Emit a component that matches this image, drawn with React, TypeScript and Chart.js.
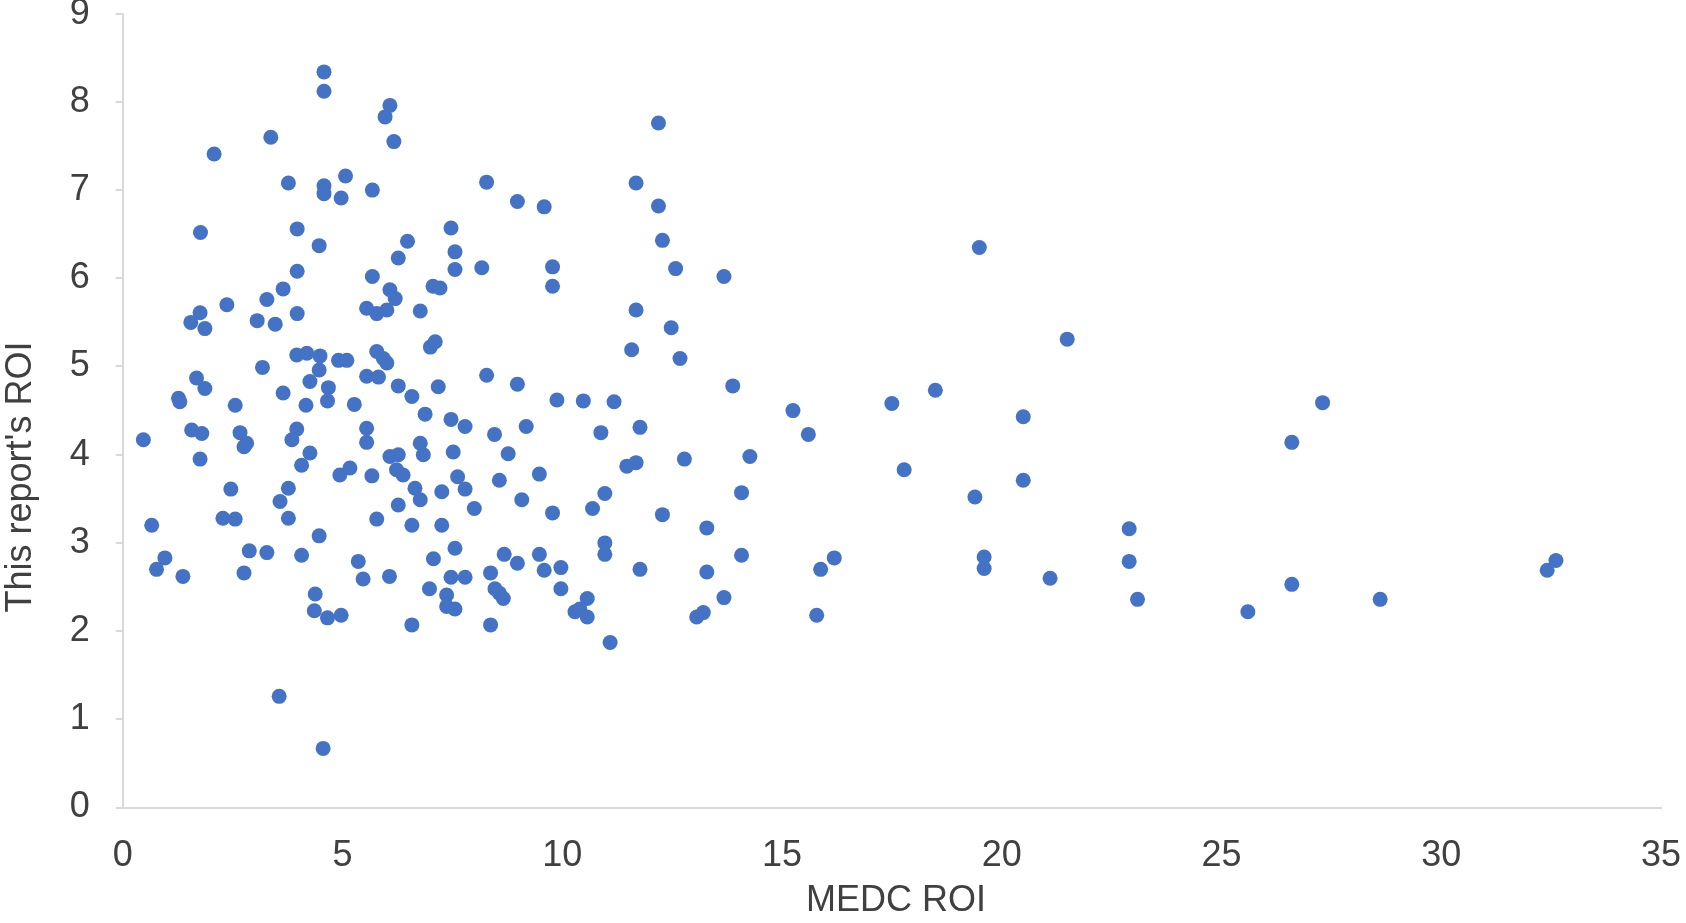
import React, { useEffect, useRef } from "react";
import { Chart, registerables } from "chart.js";

Chart.register(...registerables);

const xTitle = "MEDC ROI";
const yTitle = "This report's ROI";
const xTickValues = [0, 5, 10, 15, 20, 25, 30, 35];
const yTickValues = [0, 1, 2, 3, 4, 5, 6, 7, 8, 9];

const medcRoi = [
  4.58, 4.58, 6.08, 5.97, 6.17, 3.37, 2.08, 3.77, 4.58, 4.58, 5.07, 4.97, 5.68, 1.77, 3.97, 4.47, 6.48, 6.27, 7.47, 7.56, 7.56, 3.97, 5.68, 3.65, 6.08, 7.06, 7.22,
  12.19, 8.28, 8.98, 9.59, 11.68, 12.19, 12.28, 12.58, 13.68, 8.17, 9.78, 9.78,
  3.28, 2.37, 1.76, 1.55, 1.87, 3.06, 3.47, 3.97, 6.2, 5.55, 5.78, 6.01, 6.77, 7.0, 7.11, 3.96, 4.19, 4.49, 4.47, 4.26, 4.68, 4.66, 4.91, 5.1, 5.78, 5.93, 6.01, 5.55, 5.82, 6.27, 6.58, 7.18, 6.88, 7.47, 3.18, 1.68, 1.87, 1.27, 1.3, 2.56, 3.65, 4.17, 5.27, 0.47, 1.57, 1.8, 1.76, 2.67, 2.82, 2.76, 3.96, 3.85, 4.26, 4.07, 4.94, 5.17, 5.55, 5.55, 5.67, 6.08, 6.27, 6.23, 6.38, 6.77, 6.84, 7.52, 7.62, 7.26, 6.65, 6.77, 6.27, 5.78, 6.58, 7.26, 2.46, 3.77, 3.58, 2.28, 2.56, 3.77, 0.66, 4.47,
  11.68, 12.48, 11.58, 12.68, 13.88, 15.25, 8.28, 8.98, 9.88, 10.48, 11.18, 7.79, 8.46, 9.18, 10.88, 11.77, 8.77, 7.79, 8.57, 9.48, 11.47, 11.68, 12.78, 14.27, 14.08, 9.08, 8.0, 10.97, 9.78, 10.69, 12.28, 13.29,
  0.96, 0.77, 1.37, 2.88, 3.28, 2.76, 4.07, 5.36, 5.47, 6.07, 7.07, 7.56, 7.47, 6.98, 7.37, 7.37, 7.56, 4.38, 4.36, 4.66, 4.97, 6.58, 3.56, 4.56,
  7.79, 8.68, 8.98, 8.37, 8.47, 8.57, 8.66, 8.37, 9.48, 9.59, 9.97, 9.97, 10.57, 10.29, 10.4, 10.57, 10.97, 10.97, 11.09, 11.77, 14.08, 13.29, 13.68, 13.06, 13.21,
  19.49, 21.49, 18.49, 17.5, 15.6, 20.49, 17.78, 20.49, 19.39, 22.9, 22.9, 23.09, 16.19, 15.88, 15.79, 19.6, 19.6, 21.1,
  27.3, 26.6, 26.6, 25.6, 28.61, 32.61, 32.41,
];

const reportRoi = [
  8.34, 8.12, 7.96, 7.83, 7.55, 7.6, 7.41, 7.08, 7.05, 6.96, 7.16, 6.91, 7.0, 6.52, 6.56, 6.37, 6.42, 6.23, 6.57, 6.3, 6.1, 6.08, 6.02, 5.88, 5.87, 5.91, 5.89,
  7.76, 7.09, 6.87, 6.81, 7.08, 6.82, 6.43, 6.11, 6.02, 6.12, 6.13, 5.91,
  5.76, 5.7, 5.61, 5.5, 5.43, 5.52, 5.48, 5.6, 5.77, 5.66, 5.6, 5.64, 5.63, 5.22, 5.28, 5.13, 5.15, 5.12, 4.96, 4.83, 4.76, 4.61, 5.07, 5.07, 5.17, 5.09, 5.04, 4.89, 4.88, 4.78, 4.66, 4.77, 4.46, 4.4, 4.99, 4.87, 4.75, 4.64, 4.6, 4.56, 4.7, 4.56, 4.57, 4.17, 4.28, 4.24, 3.95, 4.25, 4.13, 4.09, 4.29, 4.17, 4.02, 3.88, 3.77, 3.85, 4.3, 4.14, 3.76, 3.98, 4.0, 3.83, 3.77, 4.13, 4.0, 4.03, 3.75, 3.58, 3.62, 3.49, 3.43, 3.27, 3.2, 3.2, 3.61, 3.62, 3.47, 3.28, 3.27, 3.28, 3.2, 3.08,
  5.64, 5.44, 5.19, 5.09, 4.78, 4.5, 4.9, 4.8, 4.62, 4.61, 4.6, 4.32, 4.23, 4.32, 4.25, 4.31, 4.01, 3.61, 3.71, 3.78, 3.87, 3.91, 3.95, 3.98, 3.57, 3.49, 3.39, 3.56, 3.34, 3.39, 3.32, 3.17,
  2.83, 2.7, 2.62, 2.91, 2.89, 2.66, 2.86, 2.79, 2.59, 2.62, 2.82, 2.94, 2.61, 2.48, 2.41, 2.28, 2.25, 2.42, 2.23, 2.15, 2.18, 2.07, 1.26, 0.67,
  2.61, 2.87, 2.77, 2.66, 2.48, 2.43, 2.37, 2.07, 2.87, 2.69, 2.72, 2.48, 2.37, 2.22, 2.25, 2.16, 3.0, 2.87, 1.87, 2.7, 2.86, 2.67, 2.38, 2.16, 2.21,
  6.35, 5.31, 4.73, 4.58, 4.23, 4.43, 3.83, 3.71, 3.52, 3.16, 2.79, 2.36, 2.83, 2.7, 2.18, 2.84, 2.71, 2.6,
  4.59, 4.14, 2.53, 2.22, 2.36, 2.8, 2.69,
];

const FONT = '"Liberation Sans", Arial, Helvetica, sans-serif';
const TEXT_COLOR = "#404040";
const AXIS_COLOR = "#d9d9d9";

const axisTitlePlugin = {
  id: "axisTitleText",
  afterDraw(chart: any) {
    const ctx = chart.ctx;
    ctx.save();
    ctx.font = `36px ${FONT}`;
    ctx.fillStyle = TEXT_COLOR;
    ctx.textAlign = "center";
    ctx.textBaseline = "middle";
    ctx.fillText(xTitle, 896, 901);
    ctx.translate(21.5, 477);
    ctx.rotate(-Math.PI / 2);
    ctx.fillText(yTitle, 0, 0);
    ctx.restore();
  },
};

export default function App() {
  const canvasRef = useRef<HTMLCanvasElement | null>(null);

  useEffect(() => {
    if (!canvasRef.current) return;
    const points = medcRoi.map((x, i) => ({ x, y: reportRoi[i] }));
    const chart = new Chart(canvasRef.current, {
      type: "scatter",
      data: {
        datasets: [
          {
            label: yTitle,
            data: points,
            backgroundColor: "#4472C4",
            borderColor: "#4472C4",
            borderWidth: 0,
            pointRadius: 7.5,
            pointHoverRadius: 7.5,
          },
        ],
      },
      options: {
        responsive: false,
        animation: false,
        events: [],
        layout: { padding: { top: 13.7, right: 25, left: 0, bottom: 0 } },
        plugins: {
          legend: { display: false },
          tooltip: { enabled: false },
        },
        scales: {
          x: {
            type: "linear",
            min: 0,
            max: 35,
            afterBuildTicks: (scale: any) => {
              scale.ticks = xTickValues.map((v) => ({ value: v }));
            },
            ticks: {
              font: { family: FONT, size: 36 },
              color: TEXT_COLOR,
              padding: 27,
              maxRotation: 0,
              autoSkip: false,
            },
            grid: { display: false, drawTicks: false, tickLength: 0 },
            border: { display: true, color: AXIS_COLOR, width: 2 },
            title: { display: false },
            afterFit: (scale: any) => {
              scale.height = 115.5;
              scale.paddingLeft = 0;
              scale.paddingRight = 0;
            },
          },
          y: {
            type: "linear",
            min: 0,
            max: 9,
            afterBuildTicks: (scale: any) => {
              scale.ticks = yTickValues.map((v) => ({ value: v }));
            },
            ticks: {
              font: { family: FONT, size: 36 },
              color: TEXT_COLOR,
              padding: 26,
              autoSkip: false,
            },
            grid: {
              display: true,
              drawOnChartArea: false,
              drawTicks: true,
              tickLength: 7,
              color: AXIS_COLOR,
              lineWidth: 2,
            },
            border: { display: true, color: AXIS_COLOR, width: 2 },
            title: { display: false },
            afterFit: (scale: any) => {
              scale.width = 122.7;
              scale.paddingTop = 0;
              scale.paddingBottom = 0;
            },
          },
        },
      },
      plugins: [axisTitlePlugin],
    });
    return () => chart.destroy();
  }, []);

  return (
    <div style={{ position: "absolute", left: 0, top: 0, width: 1686, height: 923, background: "#ffffff" }}>
      <canvas ref={canvasRef} width={1686} height={923} style={{ display: "block" }} />
    </div>
  );
}
